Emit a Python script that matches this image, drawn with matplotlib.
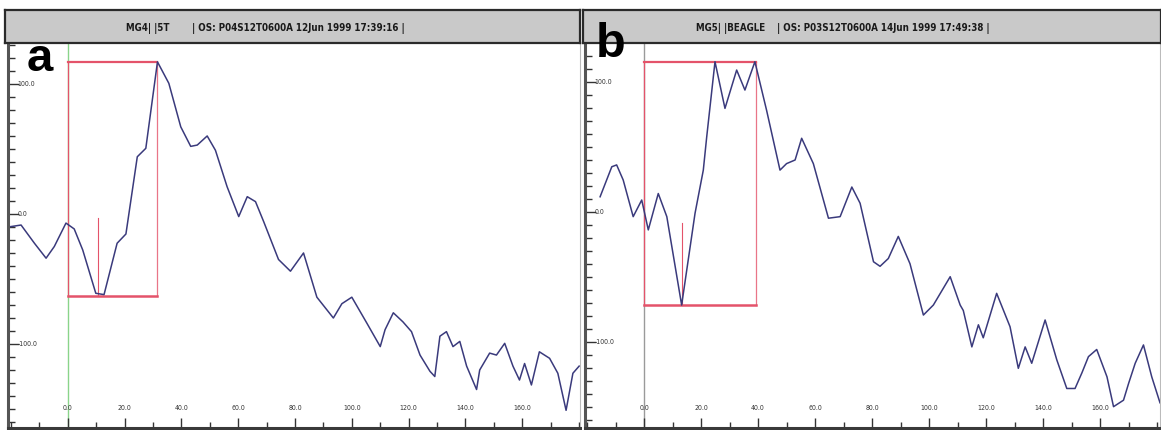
import matplotlib
matplotlib.use('Agg')
import matplotlib.pyplot as plt
from matplotlib.ticker import MultipleLocator, FixedLocator, FormatStrFormatter

# panel a trace (MG4)
a_x = [-20, -16.4, -11.7, -7.6, -4.7, -0.6, 2.3, 5.3, 9.9, 12.8, 17.4, 20.5, 24.5, 27.5,
       31.6, 35.6, 39.8, 43.3, 45.6, 49.1, 52, 56.1, 60.2, 63.2, 66.1, 69, 74.2, 78.4, 83,
       87.7, 93.5, 96.5, 100, 105.3, 110, 111.7, 114.6, 118, 121, 124, 127.5, 129.2, 131,
       133.3, 135.6, 138, 140.4, 143.9, 145, 148.5, 150.9, 153.8, 156.7, 159, 160.8, 163.2,
       166, 169.6, 172.5, 175.4, 177.8, 180]
a_y = [-9.7, -8.5, -22.5, -34, -25, -7, -11.5, -27.7, -61, -62, -22.5, -15.4, 44, 50.5,
       117, 100.5, 67, 52, 53, 60, 49, 21, -2, 13.3, 9.5, -6, -35, -44, -30,
       -64, -80, -69, -64, -84, -102, -89, -76, -83, -90.5, -108.5, -121, -125, -94,
       -90.5, -102, -98, -117, -135, -120, -107, -108.5, -99.5, -117, -127.7, -115, -131.5,
       -106, -111, -122.5, -151, -122.5, -117]

# panel b trace (MG5)
b_x = [-15.4, -11.3, -9.6, -7.3, -3.8, -0.8, 1.5, 5, 8, 13.2, 17.9, 20.8, 22, 24.9, 28.4,
       32.5, 35.4, 38.9, 43, 47.7, 50, 53, 55.3, 59.4, 64.7, 68.8, 72.9, 75.8, 80.5, 82.8,
       85.7, 89.2, 93.3, 98, 101.5, 107.4, 110.9, 112, 115, 117.3, 119, 123.7, 128.4, 131.3,
       133.7, 136, 140.7, 144.8, 148.3, 151.2, 153.6, 155.9, 158.8, 162.4, 164.7, 168.2, 170,
       172.3, 175.2, 178.1, 181]
b_y = [11.5, 34.6, 36, 24.4, -3.8, 9, -14, 14, -3.8, -71.8, -1.2, 32, 57.7, 115.4, 79.5,
       109, 93.6, 115.4, 78, 32, 37, 39.8, 56.5, 37, -5, -3.8, 19, 6.5, -38.5, -42,
       -36, -19, -40, -79.5, -71.8, -50, -71.8, -76, -104, -87, -97, -62.8, -88.5, -120.5,
       -104, -116.6, -83.3, -114, -136, -136, -124, -111.5, -106, -127, -150, -145, -132,
       -116.6, -102.5, -127, -147]

# red selection boxes: x0, x1, y0, y1 ; marker: x, ybottom, ytop
a_box = [0, 31.6, -63, 117]
a_mark = [10.5, -63, -3]
b_box = [0, 39.3, -71.8, 115.4]
b_mark = [13.2, -71.8, -9]

x_major = [0, 20, 40, 60, 80, 100, 120, 140, 160]
y_major = [-100, 0, 100]

a_title = ['MG4| |5T', '| OS: P04S12T0600A 12Jun 1999 17:39:16 |']
b_title = ['MG5| |BEAGLE', '| OS: P03S12T0600A 14Jun 1999 17:49:38 |']

W, H = 1161, 430
CURVE = '#3a3a7c'
RED = '#e4536a'


def fx(px):
    return px / W


def fy(py):
    return 1 - py / H


fig = plt.figure(figsize=(W / 100, H / 100), dpi=100)
fig.patch.set_facecolor('white')


def panel(left, right, xs, ys, box, mark, xlim, ylim, zero_col):
    ax = fig.add_axes([fx(left), fy(428), fx(right - left), (428 - 43) / H])
    ax.axvline(0, color=zero_col, lw=1.0, zorder=1)
    ax.plot(xs, ys, color=CURVE, lw=1.1, zorder=3)
    x0, x1, y0, y1 = box
    ax.plot([x0, x1], [y1, y1], color=RED, lw=1.6, zorder=2)
    ax.plot([x0, x1], [y0, y0], color=RED, lw=1.8, zorder=2)
    ax.plot([x0, x0], [y0, y1], color=RED, lw=0.9, zorder=2)
    ax.plot([x1, x1], [y0, y1], color=RED, lw=0.9, alpha=0.8, zorder=2)
    ax.plot([mark[0], mark[0]], [mark[1], mark[2]], color=RED, lw=0.8, zorder=2)
    ax.set_xlim(*xlim)
    ax.set_ylim(*ylim)

    ax.xaxis.set_major_locator(FixedLocator(x_major))
    ax.xaxis.set_minor_locator(MultipleLocator(10))
    ax.yaxis.set_major_locator(FixedLocator(y_major))
    ax.yaxis.set_minor_locator(MultipleLocator(10))
    ax.xaxis.set_major_formatter(FormatStrFormatter('%.1f'))
    ax.yaxis.set_major_formatter(FormatStrFormatter('%.1f'))
    ax.tick_params(which='both', direction='in', colors='#333333', labelsize=5,
                   width=1.0)
    ax.tick_params(axis='x', which='major', length=7, pad=-12)
    ax.tick_params(axis='x', which='minor', length=4)
    ax.tick_params(axis='y', which='major', length=8, pad=-7)
    ax.tick_params(axis='y', which='minor', length=5)
    for lbl in ax.get_yticklabels():
        lbl.set_horizontalalignment('left')
        lbl.set_verticalalignment('center')
    for lbl in ax.get_xticklabels():
        lbl.set_verticalalignment('bottom')
    for t in ax.get_xticklabels() + ax.get_yticklabels():
        t.set_fontstretch('condensed')
    ax.spines['left'].set_linewidth(2.2)
    ax.spines['left'].set_color('#555555')
    ax.spines['bottom'].set_linewidth(2.2)
    ax.spines['bottom'].set_color('#3a3a3a')
    ax.spines['top'].set_visible(False)
    ax.spines['right'].set_color('#bbbbbb')
    ax.spines['right'].set_linewidth(0.8)
    return ax


ax_a = panel(8, 580, a_x, a_y, a_box, a_mark, (-21, 180.3), (-164.6, 131.5), '#8ad48a')
ax_b = panel(585, 1160, b_x, b_y, b_box, b_mark, (-20.7, 181), (-166.4, 129.8), '#9a9a9a')


def title_bar(left, right, parts, pos):
    tb = fig.add_axes([fx(left), fy(43), fx(right - left), 33 / H])
    tb.set_facecolor('#c9c9c9')
    tb.set_xticks([])
    tb.set_yticks([])
    for s in tb.spines.values():
        s.set_color('#2a2a2a')
        s.set_linewidth(1.6)
    for txt, px in zip(parts, pos):
        fig.text(fx(px), fy(29), txt, ha='left', va='center', fontsize=7,
                 fontweight='bold', fontstretch='condensed', family='DejaVu Sans',
                 color='#1a1a1a')


title_bar(5, 580, a_title, [126, 192])
title_bar(583, 1161, b_title, [696, 777])

fig.text(fx(27), fy(71), 'a', fontsize=34, fontweight='bold', family=['Liberation Sans', 'DejaVu Sans'],
         ha='left', va='baseline', color='black')
fig.text(fx(596), fy(57), 'b', fontsize=35, fontweight='bold', family=['Liberation Sans', 'DejaVu Sans'],
         ha='left', va='baseline', color='black')

fig.savefig('out.png', dpi=100, facecolor='white')
